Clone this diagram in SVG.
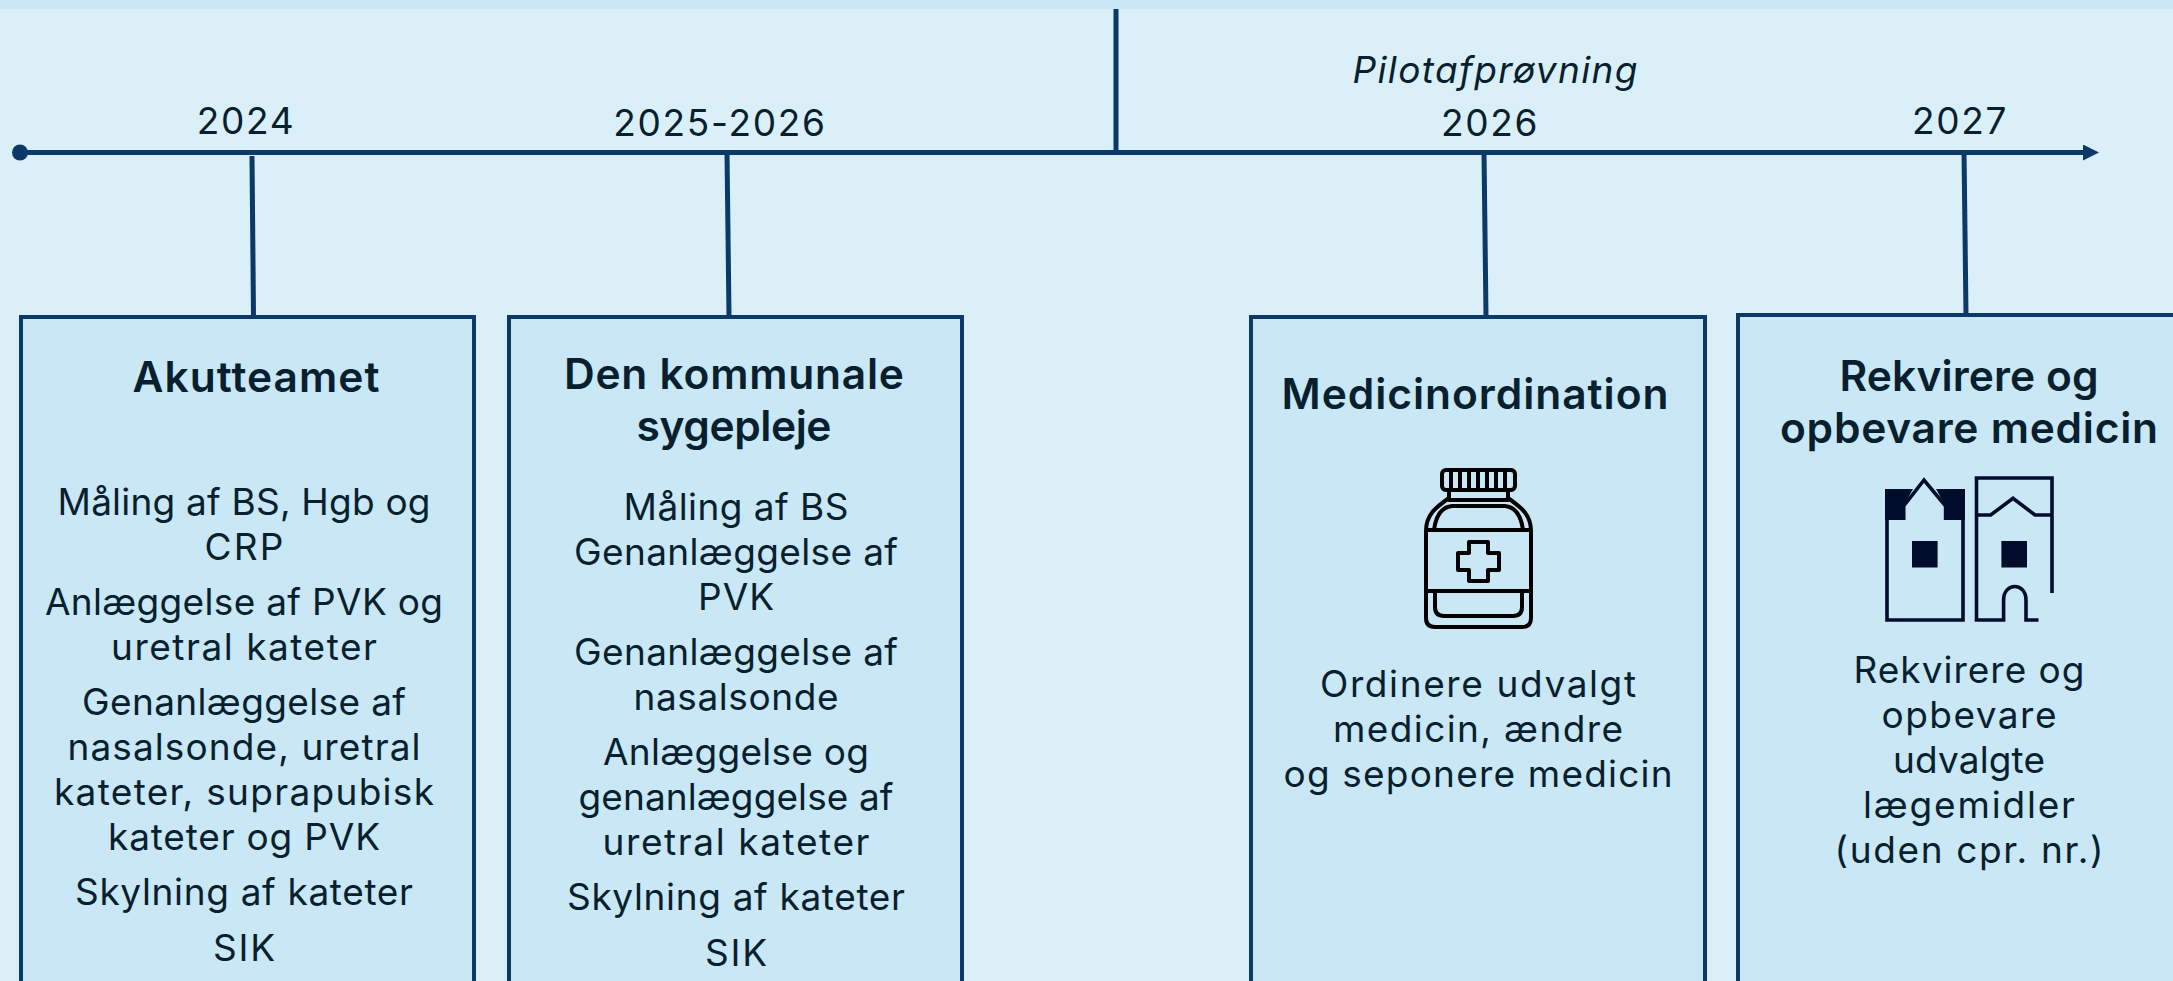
<svg xmlns="http://www.w3.org/2000/svg" width="2173" height="981" viewBox="0 0 2173 981">
<style>
text{font-family:"Inter","Noto Sans",sans-serif;fill:#071f2e;text-anchor:middle}
.y{font-size:37px;letter-spacing:1.700px}
.h{font-size:42.500px;font-weight:600}
.b{font-size:37px}
.box{fill:#c9e7f4;stroke:#0b3a68;stroke-width:4}
.l{stroke:#0b3a68;stroke-width:5;fill:none}
.ic{fill:none;stroke:#000;stroke-width:4;stroke-linejoin:round}
.ho{fill:none;stroke:#000c2c;stroke-width:3.600}
.hf{fill:#000c2c}
</style>
<defs><marker id="arr" markerUnits="userSpaceOnUse" markerWidth="16" markerHeight="16" refX="0" refY="8" orient="auto"><path d="M0 0L16 8L0 16Z" fill="#0b3a68"/></marker></defs>
<rect width="2173" height="981" fill="#daeff8"/>
<rect width="2173" height="9" fill="#c9e7f4"/>
<g id="connectors">
<line class="l" x1="20" y1="152.500" x2="2083" y2="152.500" marker-end="url(#arr)"/>
<circle cx="20" cy="152.500" r="8" fill="#0b3a68"/>
<line class="l" x1="1116" y1="9" x2="1116" y2="152"/>
<line class="l" x1="252" y1="156" x2="253.500" y2="316"/>
<line class="l" x1="727" y1="152" x2="729" y2="316"/>
<line class="l" x1="1484" y1="152" x2="1486" y2="316"/>
<line class="l" x1="1964" y1="150" x2="1966" y2="315"/>
</g>
<g id="timeline-labels">
<text class="y" x="246" y="134">2024</text>
<text class="y" x="720" y="136">2025-2026</text>
<text class="y" x="1490" y="136">2026</text>
<text class="y" x="1960" y="134">2027</text>
<text x="1495" y="83" font-size="37" font-style="italic" textLength="285">Pilotafprøvning</text>
</g>
<g id="node-akutteamet">
<rect class="box" x="21" y="317" width="453" height="680"/>
<text class="h" x="256" y="392" textLength="247">Akutteamet</text>
<g class="b"><text x="244" y="515" textLength="373">Måling af BS, Hgb og</text><text x="244" y="560" textLength="79">CRP</text><text x="244" y="615" textLength="398">Anlæggelse af PVK og</text><text x="244" y="660" textLength="266">uretral kateter</text><text x="244" y="715" textLength="324">Genanlæggelse af</text><text x="244" y="760" textLength="353">nasalsonde, uretral</text><text x="244" y="805" textLength="380">kateter, suprapubisk</text><text x="244" y="850" textLength="272">kateter og PVK</text><text x="244" y="905" textLength="338">Skylning af kateter</text><text x="244" y="961" textLength="62">SIK</text></g>
</g>
<g id="node-kommunal">
<rect class="box" x="509" y="317" width="453" height="680"/>
<text class="h" x="734" y="389" textLength="340">Den kommunale</text><text class="h" x="734" y="441" textLength="195">sygepleje</text>
<g class="b"><text x="736" y="520" textLength="225">Måling af BS</text><text x="736" y="565" textLength="324">Genanlæggelse af</text><text x="736" y="610" textLength="76">PVK</text><text x="736" y="665" textLength="324">Genanlæggelse af</text><text x="736" y="710" textLength="205">nasalsonde</text><text x="736" y="765" textLength="266">Anlæggelse og</text><text x="736" y="810" textLength="315">genanlæggelse af</text><text x="736" y="855" textLength="267">uretral kateter</text><text x="736" y="910" textLength="338">Skylning af kateter</text><text x="736" y="966" textLength="62">SIK</text></g>
</g>
<g id="node-medicin">
<rect class="box" x="1251" y="317" width="454" height="680"/>
<text class="h" x="1475" y="409" textLength="387">Medicinordination</text>
<g id="bottle" class="ic"><rect x="1442" y="470" width="73" height="20" rx="4"/><path d="M1451 470v20M1460 470v20M1469 470v20M1478 470v20M1487 470v20M1496 470v20M1505 470v20"/><path d="M1449 490v10h59v-10"/><path d="M1449 498C1435 508 1426 515 1426 531V618Q1426 627 1435 627H1522Q1531 627 1531 618V531C1531 515 1522 508 1508 498"/><path d="M1426 530H1531M1426 591H1531"/><path d="M1434 530C1436 515 1442 507 1452 506H1505C1515 507 1521 515 1523 530"/><path d="M1435 591V607Q1435 616 1444 616H1513Q1522 616 1522 607V591"/><path d="M1469 542H1488V553H1499V570H1488V581H1469V570H1458V553H1469Z"/></g>
<g class="b"><text x="1478" y="697" textLength="316">Ordinere udvalgt</text><text x="1478" y="742" textLength="290">medicin, ændre</text><text x="1478" y="787" textLength="389">og seponere medicin</text></g>
</g>
<g id="node-rekvirere">
<rect class="box" x="1738" y="315" width="460" height="690"/>
<text class="h" x="1969" y="391" textLength="259">Rekvirere og</text><text class="h" x="1969" y="443" textLength="378">opbevare medicin</text>
<g id="buildings"><path class="hf" d="M1885 489H1913L1903.700 506V520H1885ZM1936 489H1965V520H1945.600V506Z"/><path class="ho" d="M1887 520V620H1963V520M1903.700 520V506L1924 480L1945.600 506V520"/><rect class="hf" x="1912" y="541" width="25.600" height="26.500"/><path class="ho" d="M2052 593V478H1976.500V620H2003.600V600C2003.600 582 2026 582 2026 600V620H2038.500"/><path class="ho" d="M1976 515H1990.700L2013 498.300L2035 515H2052"/><rect class="hf" x="2001.400" y="541" width="25.600" height="26.500"/></g>
<g class="b"><text x="1969" y="683" textLength="231">Rekvirere og</text><text x="1969" y="728" textLength="175">opbevare</text><text x="1969" y="773" textLength="152">udvalgte</text><text x="1969" y="818" textLength="212">lægemidler</text><text x="1969" y="863" textLength="269">(uden cpr. nr.)</text></g>
</g>
</svg>
